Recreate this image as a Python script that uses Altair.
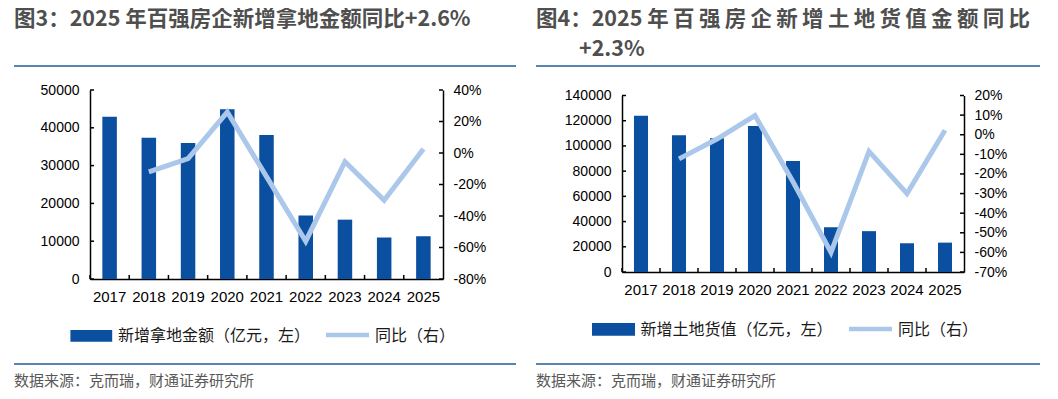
import altair as alt
import pandas as pd

years = ["2017", "2018", "2019", "2020", "2021", "2022", "2023", "2024", "2025"]
land_amount = [42900, 37400, 36000, 44900, 38100, 16800, 15700, 11000, 11300]
land_yoy = [None, -12.0, -3.5, 26.0, -15.0, -56.0, -5.5, -30.0, 2.6]
goods_value = [123900, 108500, 106100, 115900, 88000, 35500, 32400, 22800, 23300]
goods_yoy = [None, -12.3, -2.2, 9.8, -24.0, -60.0, -8.5, -30.0, 2.3]

left_ticks = [0, 10000, 20000, 30000, 40000, 50000]
left_pct_ticks = [-80, -60, -40, -20, 0, 20, 40]
right_ticks = [0, 20000, 40000, 60000, 80000, 100000, 120000, 140000]
right_pct_ticks = [-70, -60, -50, -40, -30, -20, -10, 0, 10, 20]

title_left = "图3：2025 年百强房企新增拿地金额同比+2.6%"
title_right_1 = "图4：2025 " + "\u2009".join("年百强房企新增土地货值金额同比")
title_right_2 = "+2.3%"
legend_left = "新增拿地金额（亿元，左）"
legend_right = "新增土地货值（亿元，左）"
legend_yoy = "同比（右）"
source = "数据来源：克而瑞，财通证券研究所"

BAR = "#0A4FA0"
LINE = "#ABC8EB"
RULE = "#1F5B98"
CJK = "Noto Sans CJK SC"
NUM = "Liberation Sans"

one = pd.DataFrame({"a": [0]})


def text(t, x, y, size, color, weight="normal", font=CJK):
    return alt.Chart(one).mark_text(
        align="left", baseline="middle", font=font, fontSize=size,
        color=color, fontWeight=weight
    ).encode(x=alt.value(x), y=alt.value(y), text=alt.value(t))


def hrule(x1, x2, y, color, width):
    return alt.Chart(one).mark_rule(color=color, strokeWidth=width).encode(
        x=alt.value(x1), x2=alt.value(x2), y=alt.value(y))


def box(x1, x2, y1, y2, color, opacity=1.0):
    return alt.Chart(one).mark_rect(color=color, opacity=opacity).encode(
        x=alt.value(x1), x2=alt.value(x2), y=alt.value(y1), y2=alt.value(y2))


def xenc(band=0.5):
    return alt.X(
        "year:N", bandPosition=band,
        scale=alt.Scale(paddingInner=0, paddingOuter=0),
        axis=alt.Axis(title=None, labelAngle=0, ticks=False, labelFontSize=15,
                      labelPadding=10, domainColor="black", domainWidth=1.5,
                      labelColor="black", labelFont=NUM, grid=False))


def panel(amount, yoy, ticks, pct_ticks, w, h, y_range, decos):
    df = pd.DataFrame({"year": years, "amount": amount, "yoy": yoy})
    line_df = df.dropna(subset=["yoy"])
    yscale = alt.Scale(domain=[ticks[0], ticks[-1]], range=y_range, nice=False, zero=False)
    pscale = alt.Scale(domain=[pct_ticks[0], pct_ticks[-1]], range=y_range, nice=False, zero=False)
    bars = alt.Chart(df).mark_bar(width=alt.RelativeBandSize(0.37), color=BAR).encode(
        x=xenc(),
        y=alt.Y("amount:Q", scale=yscale,
                axis=alt.Axis(values=ticks, format="d", title=None, orient="left",
                              ticks=False, labelPadding=11, grid=False,
                              domainColor="black", domainWidth=1.5, labelFontSize=14,
                              labelColor="black", labelFont=NUM)))
    ytick = alt.Chart(pd.DataFrame({"v": ticks})).mark_rule(color="black", strokeWidth=1.5).encode(
        y=alt.Y("v:Q", scale=yscale, axis=None), x=alt.value(0), x2=alt.value(4))
    xtick = alt.Chart(df).mark_rule(color="black", strokeWidth=1.5).encode(
        x=xenc(0), y=alt.value(y_range[0] - 4), y2=alt.value(y_range[0]))
    line = alt.Chart(line_df).mark_line(color=LINE, strokeWidth=5).encode(
        x=xenc(),
        y=alt.Y("yoy:Q", scale=pscale,
                axis=alt.Axis(values=pct_ticks, labelExpr="datum.value + '%'", title=None,
                              orient="right", ticks=False, labelPadding=10, grid=False,
                              domainColor="black", domainWidth=1.5, labelFontSize=14,
                              labelColor="black", labelFont=NUM)))
    ptick = alt.Chart(pd.DataFrame({"v": pct_ticks})).mark_rule(color="black", strokeWidth=1.5).encode(
        y=alt.Y("v:Q", scale=pscale, axis=None), x=alt.value(w - 4), x2=alt.value(w))
    return alt.layer(bars, ytick, xtick, line, ptick, *decos).resolve_scale(
        y="independent").properties(width=w, height=h)


TITLE_C = "#4F4F4F"
left_decos = [
    box(-82, -81, -82, -81, "white", 0),
    text(title_left, -76, -70.5, 21.5, TITLE_C, "bold"),
    hrule(-76, 426, -24, RULE, 1.5),
    box(-19.6, 22.2, 240, 251.7, BAR),
    text(legend_left, 28, 246, 16, "#1A1A1A"),
    alt.Chart(one).mark_rule(color=LINE, strokeWidth=4.5).encode(
        x=alt.value(236), x2=alt.value(279), y=alt.value(245)),
    text(legend_yoy, 285, 246, 16, "#1A1A1A"),
    hrule(-76, 426, 274, RULE, 1.5),
    text(source, -76, 290.7, 15, "#595959"),
]
right_decos = [
    text(title_right_1, -86, -70.5, 21.5, TITLE_C, "bold"),
    text(title_right_2, -43, -40.5, 21.5, TITLE_C, "bold"),
    hrule(-86, 418, -24, RULE, 1.5),
    box(-30, 13, 233, 245.7, BAR),
    text(legend_right, 18.5, 239.5, 16, "#1A1A1A"),
    alt.Chart(one).mark_rule(color=LINE, strokeWidth=4.5).encode(
        x=alt.value(227), x2=alt.value(270), y=alt.value(239)),
    text(legend_yoy, 276, 239.5, 16, "#1A1A1A"),
    hrule(-86, 418, 274, RULE, 1.5),
    text(source, -86, 290.7, 15, "#595959"),
]

left = panel(land_amount, land_yoy, left_ticks, left_pct_ticks, 353, 189, [189, 0], left_decos)
right = panel(goods_value, goods_yoy, right_ticks, right_pct_ticks, 342, 182, [182, 5.5], right_decos)

chart = alt.hconcat(left, right, spacing=179, bounds="flush").configure_view(
    stroke=None).properties(padding=0, background="white")

chart.save("out.html", embed_options={"renderer": "svg", "actions": False})
